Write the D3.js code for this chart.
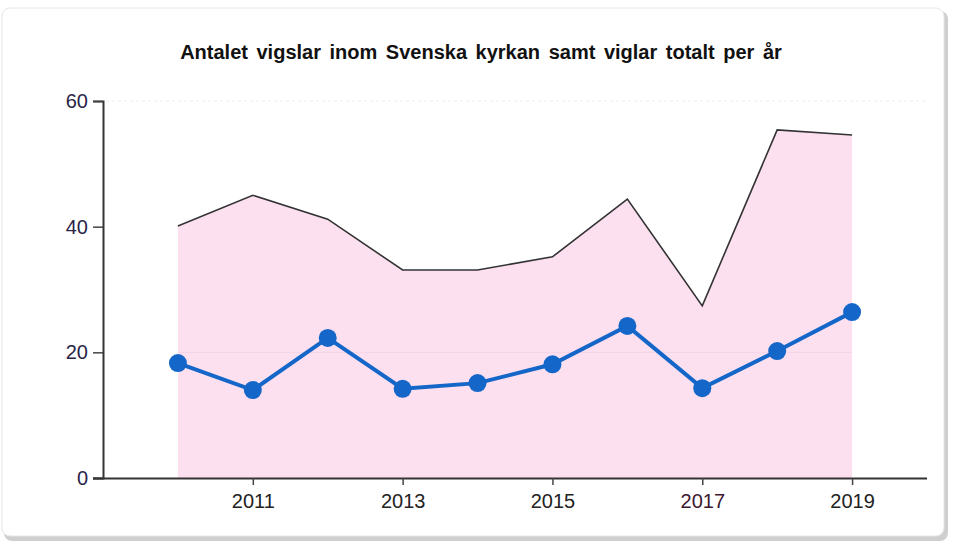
<!DOCTYPE html>
<html>
<head>
<meta charset="utf-8">
<script src="https://cdn.jsdelivr.net/npm/d3@7"></script>
<style>
  body { margin: 0; background: #fff; }
  svg { display: block; }
</style>
</head>
<body>
<div id="chart"></div>
<script>
  const years = [2010, 2011, 2012, 2013, 2014, 2015, 2016, 2017, 2018, 2019];
  const totalt = [40.1, 45.0, 41.2, 33.1, 33.1, 35.2, 44.4, 27.4, 55.4, 54.6];
  const svenskaKyrkan = [18.3, 14.0, 22.3, 14.2, 15.1, 18.1, 24.2, 14.3, 20.2, 26.4];
  const yTicks = [0, 20, 40, 60];
  const xTicks = [2011, 2013, 2015, 2017, 2019];
  const title = "Antalet vigslar inom Svenska kyrkan samt viglar totalt per år";

  const width = 955,
    height = 544;

  const svg = d3
    .select("#chart")
    .append("svg")
    .attr("width", width)
    .attr("height", height);

  // card
  svg
    .append("rect")
    .attr("x", 4)
    .attr("y", 11)
    .attr("width", 944)
    .attr("height", 530)
    .attr("rx", 8)
    .attr("fill", "#cfcfcf");
  svg
    .append("rect")
    .attr("x", 2)
    .attr("y", 8)
    .attr("width", 942)
    .attr("height", 528)
    .attr("rx", 8)
    .attr("fill", "#fff")
    .attr("stroke", "#e6e6e6");

  svg
    .append("text")
    .attr("x", 481)
    .attr("y", 59)
    .attr("text-anchor", "middle")
    .style("font-family", "'Liberation Sans', Arial, sans-serif")
    .style("font-weight", "bold")
    .style("font-size", "20px")
    .style("word-spacing", "3px")
    .attr("fill", "#111")
    .text(title);

  const x = d3.scaleLinear().domain([2009, 2020]).range([103, 927]);
  const y = d3.scaleLinear().domain([0, 60]).range([478, 101]);

  // faint gridline at top
  svg
    .append("line")
    .attr("x1", 106)
    .attr("x2", 927)
    .attr("y1", y(60))
    .attr("y2", y(60))
    .attr("stroke", "#eee")
    .attr("stroke-dasharray", "3,3");

  // area under total
  const area = d3
    .area()
    .x((d, i) => x(years[i]))
    .y0(y(0))
    .y1((d) => y(d));
  svg
    .append("path")
    .datum(totalt)
    .attr("fill", "#fce0f0")
    .attr("d", area);

  svg
    .append("line")
    .attr("x1", x(2010))
    .attr("x2", x(2019))
    .attr("y1", y(20))
    .attr("y2", y(20))
    .attr("stroke", "#f5d3e6")
    .attr("stroke-width", 1);

  const line = d3
    .line()
    .x((d, i) => x(years[i]))
    .y((d) => y(d));

  svg
    .append("path")
    .datum(totalt)
    .attr("fill", "none")
    .attr("stroke", "#333")
    .attr("stroke-width", 1.6)
    .attr("d", line);

  svg
    .append("path")
    .datum(svenskaKyrkan)
    .attr("fill", "none")
    .attr("stroke", "#1467c8")
    .attr("stroke-width", 4)
    .attr("d", line);

  svg
    .selectAll("circle.dot")
    .data(svenskaKyrkan)
    .enter()
    .append("circle")
    .attr("class", "dot")
    .attr("cx", (d, i) => x(years[i]))
    .attr("cy", (d) => y(d))
    .attr("r", 9)
    .attr("fill", "#1467c8");

  // axes
  const yAxis = svg
    .append("g")
    .attr("transform", `translate(${x(2009)},0)`)
    .call(d3.axisLeft(y).tickValues(yTicks).tickSize(10).tickPadding(5));
  const xAxis = svg
    .append("g")
    .attr("transform", `translate(0,${y(0)})`)
    .call(
      d3
        .axisBottom(x)
        .tickValues(xTicks)
        .tickFormat(d3.format("d"))
        .tickSize(7)
        .tickPadding(9)
    );

  [xAxis, yAxis].forEach((g) => {
    g.select(".domain").attr("stroke", "#333").attr("stroke-width", 2);
    g.selectAll(".tick line").attr("stroke", "#444").attr("stroke-width", 1.5);
    g.selectAll("text")
      .style("font-family", "'Liberation Sans', Arial, sans-serif")
      .style("font-size", "20px");
  });
  xAxis.select(".domain").attr("d", `M${x(2009) - 10},0.5H${x(2020)}`);
  yAxis.selectAll("text").attr("fill", "#2a2448");
  xAxis.selectAll("text").attr("fill", "#222");
  xAxis
    .selectAll("text")
    .filter((d) => d === 2017)
    .attr("fill", "#3c1830");
</script>
</body>
</html>
